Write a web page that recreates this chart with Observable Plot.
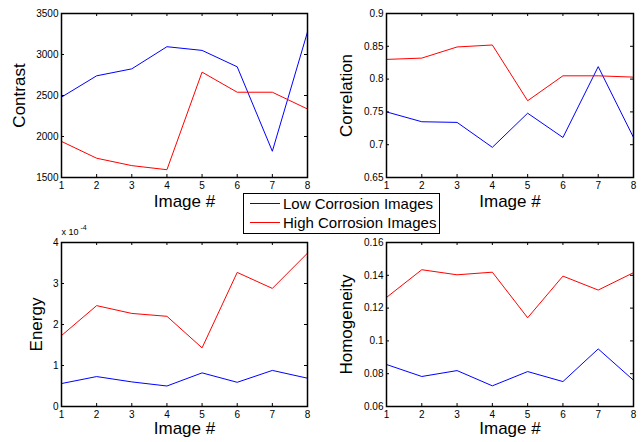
<!DOCTYPE html>
<html>
<head>
<meta charset="utf-8">
<script src="https://cdn.jsdelivr.net/npm/d3@7"></script>
<script src="https://cdn.jsdelivr.net/npm/@observablehq/plot@0.6"></script>
<style>
  html, body { margin: 0; padding: 0; background: white; }
  #chart { position: relative; width: 643px; height: 442px; background: white; overflow: hidden; }
  .panel { position: absolute; }
  #legend { position: absolute; left: 243px; top: 193px; width: 195px; height: 39px; border: 1px solid #000; background: #fff;
            font-family: "Liberation Sans", Arial, sans-serif; font-size: 15px; color: #000; z-index: 5; }
  .lrow { position: absolute; left: 0; height: 19px; line-height: 19px; white-space: nowrap; }
  .lsw { position: absolute; left: 6px; top: 9px; width: 30px; height: 0; border-top: 1.2px solid; }
  .ltx { position: absolute; left: 39px; top: 0; }
</style>
</head>
<body>
<div id="chart"></div>
<script>
// ---- data ----
const images = [1, 2, 3, 4, 5, 6, 7, 8];
const seriesNames = ["Low Corrosion Images", "High Corrosion Images"];
const seriesColors = ["#0000ff", "#ff0000"];

const contrastLow  = [2480, 2740, 2825, 3095, 3050, 2850, 1820, 3275];
const contrastHigh = [1940, 1735, 1645, 1595, 2785, 2540, 2540, 2335];

const correlationLow  = [0.750, 0.735, 0.734, 0.696, 0.748, 0.711, 0.819, 0.711];
const correlationHigh = [0.830, 0.832, 0.849, 0.852, 0.767, 0.805, 0.805, 0.803];

// energy values in units of 1e-4
const energyLow  = [0.56, 0.73, 0.60, 0.50, 0.82, 0.59, 0.88, 0.69];
const energyHigh = [1.73, 2.46, 2.27, 2.20, 1.43, 3.27, 2.88, 3.74];
const energyExponent = "-4";

const homogeneityLow  = [0.0856, 0.0783, 0.0819, 0.0726, 0.0813, 0.0752, 0.0951, 0.0760];
const homogeneityHigh = [0.1265, 0.1434, 0.1403, 0.1419, 0.1141, 0.1395, 0.1310, 0.1416];

const xTicks = [1, 2, 3, 4, 5, 6, 7, 8];
const contrastTicks = [1500, 2000, 2500, 3000, 3500];
const correlationTicks = [0.65, 0.7, 0.75, 0.8, 0.85, 0.9];
const energyTicks = [0, 1, 2, 3, 4];
const homogeneityTicks = [0.06, 0.08, 0.1, 0.12, 0.14, 0.16];
const xLabel = "Image #";

const FONT = "'Liberation Sans', Arial, Helvetica, sans-serif";
const fmt = d => String(d);

function panel(o) {
  const innerW = o.width - o.ml - o.mr;
  const innerH = o.height - o.mt - o.mb;
  const rows = [];
  images.forEach((x, i) => {
    rows.push({x, y: o.low[i], s: seriesNames[0]});
    rows.push({x, y: o.high[i], s: seriesNames[1]});
  });
  const marks = [
    Plot.line(rows.filter(d => d.s === seriesNames[0]), {x: "x", y: "y", stroke: seriesColors[0], strokeWidth: 1}),
    Plot.line(rows.filter(d => d.s === seriesNames[1]), {x: "x", y: "y", stroke: seriesColors[1], strokeWidth: 1}),
    Plot.tickX(xTicks, {x: d => d, insetTop: innerH - 3, stroke: "#000"}),
    Plot.tickX(xTicks, {x: d => d, insetBottom: innerH - 3, stroke: "#000"}),
    Plot.tickY(o.yTicks, {y: d => d, insetRight: innerW - 3, stroke: "#000"}),
    Plot.tickY(o.yTicks, {y: d => d, insetLeft: innerW - 3, stroke: "#000"}),
    Plot.frame({stroke: "#000", strokeWidth: 1.5}),
    Plot.axisX({ticks: xTicks, tickSize: 0, tickPadding: 4, label: null, fill: "#000", tickFormat: fmt}),
    Plot.axisY({ticks: o.yTicks, tickSize: 0, tickPadding: 3, label: null, tickFormat: fmt, fill: "#000"}),
    Plot.text([o.yLabel], {frameAnchor: "left", dx: o.yLabelDx, rotate: -90, fontSize: 17, fill: "#000",
      textAnchor: "middle", lineAnchor: "middle"}),
    Plot.text([xLabel], {frameAnchor: "bottom", dy: o.xLabelDy, fontSize: 17, fill: "#000",
      textAnchor: "middle", lineAnchor: "middle"})
  ];
  if (o.exponent) {
    marks.push(Plot.text(["x 10"], {frameAnchor: "top-left", dy: -10, textAnchor: "start", lineAnchor: "middle", fontSize: 9, fill: "#000"}));
    marks.push(Plot.text([o.exponent], {frameAnchor: "top-left", dx: 19, dy: -15, textAnchor: "start", lineAnchor: "middle", fontSize: 7, fill: "#000"}));
  }
  const svg = Plot.plot({
    width: o.width, height: o.height,
    marginLeft: o.ml, marginRight: o.mr, marginTop: o.mt, marginBottom: o.mb,
    style: {fontFamily: FONT, fontSize: "10px", color: "#000", background: "white", overflow: "visible"},
    x: {domain: [1, 8], axis: null},
    y: {domain: o.yDomain, axis: null},
    marks
  });
  const div = document.createElement("div");
  div.className = "panel";
  div.style.left = o.left + "px";
  div.style.top = o.top + "px";
  div.appendChild(svg);
  return div;
}

const chart = document.getElementById("chart");
chart.appendChild(panel({left: 0, top: 0, width: 320, height: 220, ml: 61, mr: 13, mt: 13, mb: 43,
  low: contrastLow, high: contrastHigh, yDomain: [1500, 3500], yTicks: contrastTicks,
  yLabel: "Contrast", yLabelDx: -42, xLabelDy: 24}));
chart.appendChild(panel({left: 320, top: 0, width: 323, height: 220, ml: 66, mr: 10, mt: 13, mb: 43,
  low: correlationLow, high: correlationHigh, yDomain: [0.65, 0.9], yTicks: correlationTicks,
  yLabel: "Correlation", yLabelDx: -40, xLabelDy: 24}));
chart.appendChild(panel({left: 0, top: 220, width: 320, height: 222, ml: 61, mr: 13, mt: 22, mb: 36,
  low: energyLow, high: energyHigh, yDomain: [0, 4], yTicks: energyTicks,
  yLabel: "Energy", yLabelDx: -25, xLabelDy: 22, exponent: energyExponent}));
chart.appendChild(panel({left: 320, top: 220, width: 323, height: 222, ml: 66, mr: 10, mt: 22, mb: 36,
  low: homogeneityLow, high: homogeneityHigh, yDomain: [0.06, 0.16], yTicks: homogeneityTicks,
  yLabel: "Homogeneity", yLabelDx: -40, xLabelDy: 22}));

// legend
const legend = document.createElement("div");
legend.id = "legend";
seriesNames.forEach((name, i) => {
  const row = document.createElement("div");
  row.className = "lrow";
  row.style.top = (i * 19) + "px";
  const sw = document.createElement("span");
  sw.className = "lsw";
  sw.style.borderTopColor = seriesColors[i];
  const tx = document.createElement("span");
  tx.className = "ltx";
  tx.textContent = name;
  row.appendChild(sw);
  row.appendChild(tx);
  legend.appendChild(row);
});
chart.appendChild(legend);
</script>
</body>
</html>
